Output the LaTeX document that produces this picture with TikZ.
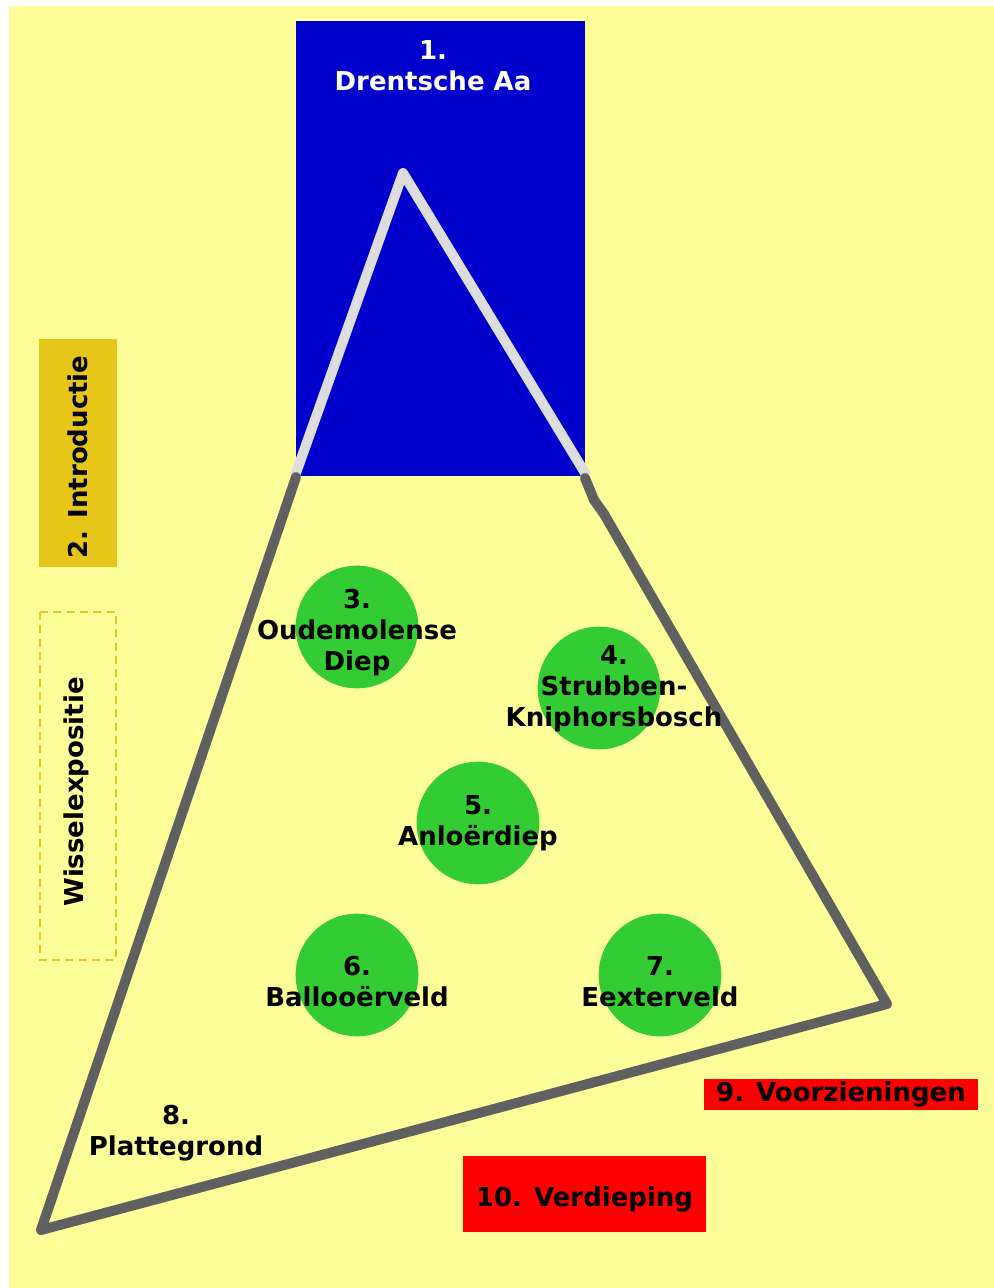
\documentclass[tikz,border=0pt]{standalone}
\usepackage{fontspec}
\setmainfont{DejaVu Sans}
\usetikzlibrary{calc}
\definecolor{zaalgeel}{HTML}{FFFF99}
\definecolor{zaalblauw}{HTML}{0000CC}
\definecolor{zaalgroen}{HTML}{33CC33}
\definecolor{zaalrood}{HTML}{FF0000}
\definecolor{zaalgoud}{HTML}{E6C619}
\definecolor{wandgrijs}{HTML}{606060}
\definecolor{wandlicht}{HTML}{DDDDDD}
\tikzset{
	zaaltekst/.style={font=\bfseries\fontsize{19.5}{23.25}\selectfont, align=center, inner sep=0pt},
	zaalrond/.style={fill=zaalgroen, circle, minimum size=92pt, inner sep=0pt},
	wand/.style={line width=7.5pt, line cap=round, line join=round},
}

\begin{document}
\begin{tikzpicture}[x=0.75pt, y=-0.75pt]
			%%%%% START %%%%%
			\useasboundingbox (0, 0) rectangle (994, 1288);
			\fill[white] (0, 0) rectangle (994, 1288);
			\fill[zaalgeel] (9, 6) rectangle (994, 1288);
			
			\fill[zaalblauw] (296, 21) rectangle (585, 476);
			\fill[zaalgoud] (39, 339) rectangle (117, 567);
			\draw[zaalgoud, line width=1.2pt, dash pattern=on 6pt off 4pt] (40, 612) rectangle (116, 960);
			\fill[zaalrood] (704, 1079) rectangle (978, 1110);
			\fill[zaalrood] (463, 1156) rectangle (706, 1232);
			
			\node[zaalrond] (rond3) at (357, 627) {};
			\node[zaalrond] (rond4) at (599, 688) {};
			\node[zaalrond] (rond5) at (478, 823) {};
			\node[zaalrond] (rond6) at (357, 975) {};
			\node[zaalrond] (rond7) at (660, 975) {};
			
			\draw[wand, wandlicht] (296, 473) -- (403, 173) -- (585, 473);
			\draw[wand, wandgrijs] (296, 477) -- (41, 1230) -- (887, 1004) -- (604, 514) -- (594, 500) -- (585, 478);
			
			\node[zaaltekst, white] (drentsche) at (433, 66) {1.\\Drentsche Aa};
			\node[zaaltekst, rotate=90] (intro) at (78, 457) {2. Introductie};
			\node[zaaltekst, rotate=90] (wissel) at (76, 792) {Wisselexpositie};
			\node[zaaltekst] (oudemolen) at (357, 633) {3.\\Oudemolense\\Diep};
			\node[zaaltekst] (strubben) at (614, 689) {4.\\Strubben-\\Kniphorsbosch};
			\node[zaaltekst] (anloo) at (478, 823) {5.\\Anloërdiep};
			\node[zaaltekst] (balloo) at (357, 982) {6.\\Ballooërveld};
			\node[zaaltekst] (eext) at (660, 982) {7.\\Eexterveld};
			\node[zaaltekst] (plattegrond) at (176, 1133) {8.\\Plattegrond};
			\node[zaaltekst] (voorz) at (841, 1094) {9. Voorzieningen};
			\node[zaaltekst] (verdiep) at (584.5, 1199) {10. Verdieping};
			%%%%% END %%%%%
\end{tikzpicture}
\end{document}
